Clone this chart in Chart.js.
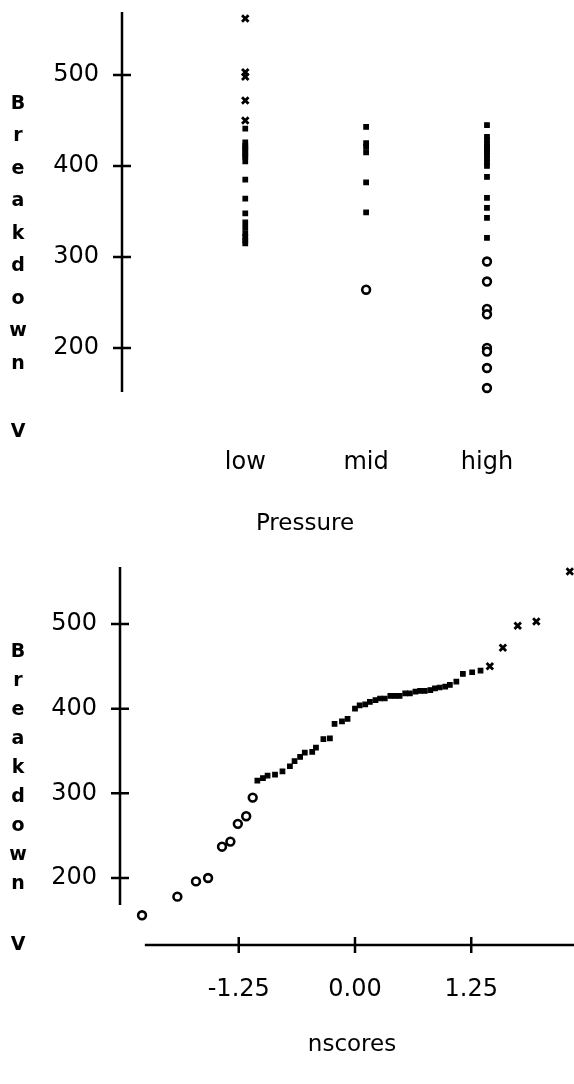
<!DOCTYPE html>
<html>
<head>
<meta charset="utf-8">
<script src="https://cdn.jsdelivr.net/npm/chart.js@4.4.1/dist/chart.umd.min.js"></script>
<style>
  html, body { margin: 0; padding: 0; background: #fff; }
  .box { position: relative; width: 574px; height: 542px; }
</style>
</head>
<body>
<div class="box"><canvas id="strip" width="574" height="542"></canvas></div>
<div class="box"><canvas id="nplot" width="574" height="542"></canvas></div>
<script>
// breakdown voltage by pressure level
const pressures = ['low', 'mid', 'high'];
const lowV  = [562, 503, 498, 472, 450, 441, 426, 422, 420, 418, 415, 412, 410, 405, 385, 364, 348, 338, 332, 326, 322, 318, 315];
const midV  = [443, 425, 421, 415, 382, 349, 264];
const highV = [445, 432, 428, 424, 421, 418, 415, 412, 408, 404, 400, 388, 365, 354, 343, 321, 295, 273, 243, 237, 200, 196, 178, 156];
const yTicks = [200, 300, 400, 500];

// normal scores of the sorted values
const nscores = [-2.29, -1.91, -1.71, -1.58, -1.43, -1.34, -1.26, -1.17, -1.10,
  -1.05, -0.99, -0.94, -0.86, -0.78, -0.70,
  -0.65, -0.59, -0.54, -0.46, -0.42, -0.34, -0.27, -0.22, -0.14, -0.08,
  0.00, 0.05, 0.11, 0.16, 0.22, 0.27, 0.32, 0.38, 0.43, 0.48, 0.54, 0.59, 0.65, 0.70, 0.75, 0.81, 0.86, 0.91, 0.97, 1.02, 1.09,
  1.16, 1.26, 1.35,
  1.45, 1.59, 1.75, 1.95, 2.31];
const nTicks = [-1.25, 0, 1.25];

const yTitle = ['B', 'r', 'e', 'a', 'k', 'd', 'o', 'w', 'n', 'V'];
const FONT = '"DejaVu Sans", Verdana, sans-serif';

// marker depends on the value: x for the high ones, open circle for the low ones
function markOf(v) {
  if (v >= 447) return 'crossRot';
  if (v < 300) return 'circle';
  return 'rect';
}
const pointOpts = {
  pointStyle: c => markOf(c.raw.y),
  pointRadius: c => { const m = markOf(c.raw.y); return m == 'crossRot' ? 4.6 : m == 'circle' ? 3.9 : 3.2; },
  pointBorderWidth: c => { const m = markOf(c.raw.y); return m == 'crossRot' ? 2.8 : m == 'circle' ? 2.6 : 1.2; },
  pointBackgroundColor: c => markOf(c.raw.y) == 'circle' ? '#fff' : '#000',
  pointBorderColor: '#000',
  clip: false
};

// axis lines, ticks that cross the axis, stacked y title, x title
const decor = {
  id: 'decor',
  afterDraw(chart, args, o) {
    const { ctx, chartArea: a, scales: { x, y } } = chart;
    ctx.save();
    ctx.strokeStyle = '#000';
    ctx.lineWidth = 2.5;
    ctx.beginPath();
    ctx.moveTo(a.left, y.getPixelForValue(o.yFrom));
    ctx.lineTo(a.left, a.top);
    yTicks.forEach(t => {
      const py = y.getPixelForValue(t);
      ctx.moveTo(a.left - 9, py);
      ctx.lineTo(a.left + 9, py);
    });
    if (o.xFrom !== undefined) {
      ctx.moveTo(x.getPixelForValue(o.xFrom), a.bottom);
      ctx.lineTo(a.right, a.bottom);
      nTicks.forEach(t => {
        const px = x.getPixelForValue(t);
        ctx.moveTo(px, a.bottom - 8);
        ctx.lineTo(px, a.bottom + 8);
      });
    }
    ctx.stroke();

    ctx.fillStyle = '#000';
    ctx.textAlign = 'center';
    ctx.textBaseline = 'middle';
    ctx.font = 'bold 19px ' + FONT;
    yTitle.forEach((ch, i) => ctx.fillText(ch, 18, o.letterY[i]));
    ctx.font = '23px ' + FONT;
    ctx.fillText(o.xTitle, o.xTitleAt[0], o.xTitleAt[1]);
    ctx.restore();
  }
};

const tickFont = { family: FONT, size: 24 };
const fitX = h => s => { s.height = h; s.paddingLeft = 0; s.paddingRight = 0; };
const fitY = w => s => { s.width = w; s.paddingTop = 0; s.paddingBottom = 0; };

new Chart(document.getElementById('strip'), {
  type: 'scatter',
  data: {
    datasets: [lowV, midV, highV].map((vals, i) => ({
      label: pressures[i],
      data: vals.map(v => ({ x: i + 1, y: v })),
      ...pointOpts
    }))
  },
  options: {
    responsive: false,
    animation: false,
    events: [],
    layout: { autoPadding: false, padding: { top: 12, right: 0, bottom: 0, left: 0 } },
    plugins: {
      legend: { display: false },
      tooltip: { enabled: false },
      decor: {
        yFrom: 151.6,
        letterY: [104, 136, 169, 201, 234, 266, 299, 331, 364, 432],
        xTitle: 'Pressure',
        xTitleAt: [305, 524]
      }
    },
    scales: {
      x: {
        type: 'linear', min: -0.02, max: 3.72,
        afterFit: fitX(150),
        afterBuildTicks: s => { s.ticks = pressures.map((p, i) => ({ value: i + 1 })); },
        grid: { display: false, drawTicks: false },
        border: { display: false },
        ticks: { color: '#000', font: tickFont, padding: 56, callback: v => pressures[v - 1] }
      },
      y: {
        min: 151.6, max: 569.2,
        afterFit: fitY(122),
        afterBuildTicks: s => { s.ticks = yTicks.map(v => ({ value: v })); },
        grid: { display: false, drawTicks: false },
        border: { display: false },
        ticks: { color: '#000', font: tickFont, padding: 23 }
      }
    }
  },
  plugins: [decor]
});

const sorted = lowV.concat(midV, highV).sort((a, b) => a - b);

new Chart(document.getElementById('nplot'), {
  type: 'scatter',
  data: {
    datasets: [{
      label: 'Breakdown V',
      data: sorted.map((v, i) => ({ x: nscores[i], y: v })),
      ...pointOpts
    }]
  },
  options: {
    responsive: false,
    animation: false,
    events: [],
    layout: { autoPadding: false, padding: { top: 25, right: 0, bottom: 0, left: 0 } },
    plugins: {
      legend: { display: false },
      tooltip: { enabled: false },
      decor: {
        yFrom: 168,
        xFrom: -2.26,
        letterY: [110, 139, 168, 197, 226, 255, 284, 313, 342, 403],
        xTitle: 'nscores',
        xTitleAt: [352, 503]
      }
    },
    scales: {
      x: {
        type: 'linear', min: -2.527, max: 2.355,
        afterFit: fitX(139),
        afterBuildTicks: s => { s.ticks = nTicks.map(v => ({ value: v })); },
        grid: { display: false, drawTicks: false },
        border: { display: false },
        ticks: { color: '#000', font: tickFont, padding: 30, callback: v => v.toFixed(2) }
      },
      y: {
        min: 120.9, max: 567.3,
        afterFit: fitY(120),
        afterBuildTicks: s => { s.ticks = yTicks.map(v => ({ value: v })); },
        grid: { display: false, drawTicks: false },
        border: { display: false },
        ticks: { color: '#000', font: tickFont, padding: 23 }
      }
    }
  },
  plugins: [decor]
});
</script>
</body>
</html>
